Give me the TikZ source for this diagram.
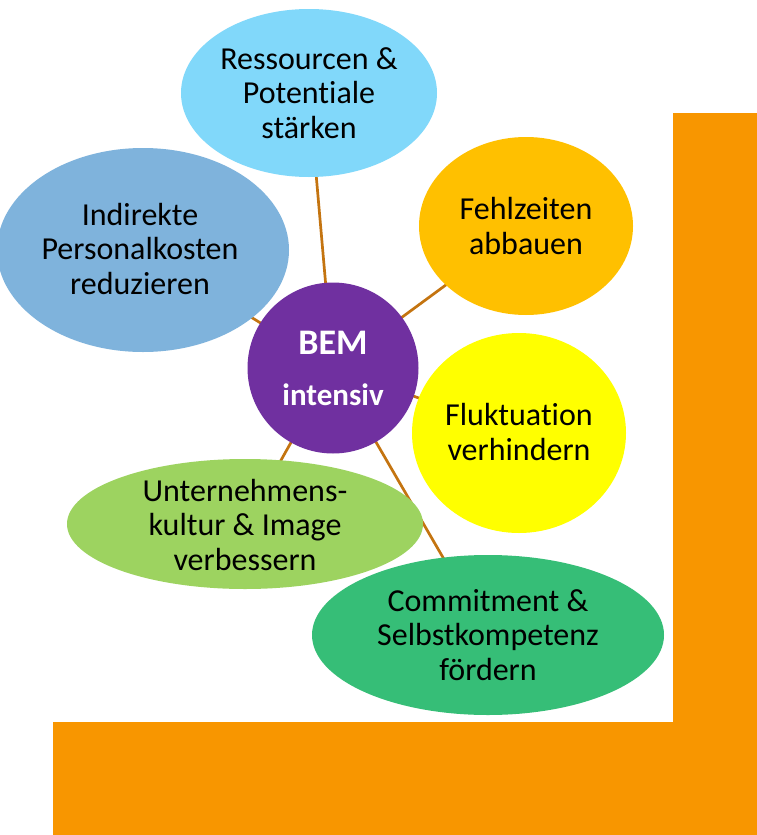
\documentclass[tikz,border=0pt]{standalone}
\usepackage{fontspec}
\setmainfont{Carlito}[Ligatures={NoCommon}]
\usetikzlibrary{shapes.geometric,backgrounds}
\definecolor{cTop}{RGB}{129,216,250}
\definecolor{cInd}{RGB}{127,179,220}
\definecolor{cFehl}{RGB}{255,192,0}
\definecolor{cFluk}{RGB}{255,255,0}
\definecolor{cBem}{RGB}{112,48,160}
\definecolor{cUnt}{RGB}{157,211,96}
\definecolor{cCom}{RGB}{54,190,119}
\definecolor{cOrange}{RGB}{248,150,0}
\definecolor{cLine}{RGB}{196,116,16}
\tikzset{
  bubble/.style={ellipse, inner sep=0pt},
  label/.style={align=center, text=black, font=\fontsize{32}{34.5}\selectfont},
  conn/.style={draw=cLine, line width=2.7pt},
}
\begin{document}
\begin{tikzpicture}[x=1pt,y=-1pt]
\useasboundingbox (0,0) rectangle (757,835);

\node[bubble, fill=cTop, minimum width=256pt, minimum height=168pt] (top) at (309,93) {};
\node[label] (toptxt) at (309,93) {Ressourcen \&\\Potentiale\\stärken};

\node[bubble, fill=cInd, minimum width=292pt, minimum height=204pt] (ind) at (143,250) {};
\node[label] (indtxt) at (140,249) {Indirekte\\Personalkosten\\reduzieren};

\node[bubble, fill=cFehl, minimum width=214pt, minimum height=178pt] (fehl) at (526,226) {};
\node[label] (fehltxt) at (526,226) {Fehlzeiten\\abbauen};

\node[bubble, fill=cFluk, minimum width=214pt, minimum height=200pt] (fluk) at (519,433) {};
\node[label] (fluktxt) at (519,432) {Fluktuation\\verhindern};

\node[bubble, fill=cUnt, minimum width=356pt, minimum height=130pt] (unt) at (245,524) {};
\node[label] (unttxt) at (245,525) {Unternehmens-\\kultur \& Image\\verbessern};

\node[bubble, fill=cCom, minimum width=352pt, minimum height=160pt] (com) at (488,635) {};
\node[label] (comtxt) at (488,635) {Commitment \&\\Selbstkompetenz\\fördern};

\node[circle, fill=cBem, minimum size=171pt, inner sep=0pt] (bem) at (333,368) {};
\node[anchor=base, text=white, font=\bfseries\fontsize{36}{36}\selectfont] (bemtxt) at (333,354) {BEM};
\node[anchor=base, text=white, font=\bfseries\fontsize{31}{31}\selectfont] (inttxt) at (333,405) {intensiv};

\begin{scope}[on background layer]
  \fill[white] (0,0) rectangle (757,835);
  \fill[cOrange] (53,722) -- (673,722) -- (673,113) -- (757,113) -- (757,835) -- (53,835) -- cycle;
  \draw[conn] (bem.center) -- (top.center);
  \draw[conn] (bem.center) -- (ind.center);
  \draw[conn] (bem.center) -- (fehl.center);
  \draw[conn] (bem.center) -- (fluk.center);
  \draw[conn] (bem.center) -- (unt.center);
  \draw[conn] (bem.center) -- (com.center);
\end{scope}
\end{tikzpicture}
\end{document}
